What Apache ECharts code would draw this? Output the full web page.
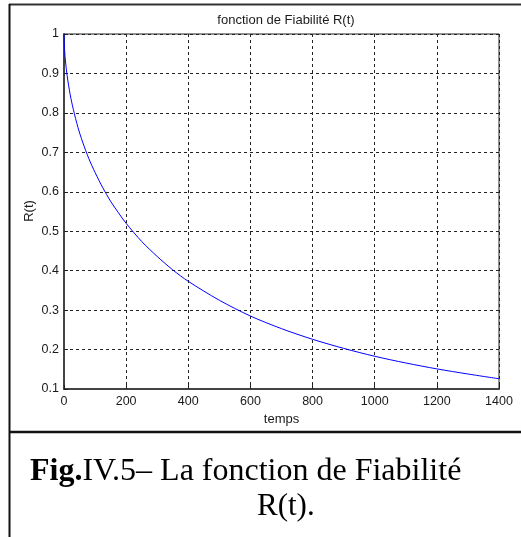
<!DOCTYPE html>
<html>
<head>
<meta charset="utf-8">
<script src="https://cdn.jsdelivr.net/npm/echarts@6/dist/echarts.min.js"></script>
<style>
  html, body { margin: 0; padding: 0; background: #fff; }
  #chart { width: 521px; height: 537px; }
</style>
</head>
<body>
<div id="chart"></div>
<script>
// Reliability function R(t) sampled over time
const timeValues = [0, 2, 5, 10, 20, 30, 45, 60, 80, 100, 125, 150, 175, 200, 250, 300, 350, 400, 500, 600, 700, 800, 900, 1000, 1100, 1200, 1300, 1400];
const reliability = [1.0, 0.958, 0.929, 0.895, 0.846, 0.809, 0.763, 0.726, 0.684, 0.649, 0.610, 0.576, 0.547, 0.520, 0.474, 0.436, 0.402, 0.373, 0.325, 0.285, 0.253, 0.226, 0.203, 0.183, 0.166, 0.151, 0.138, 0.126];
const xTicks = [0, 200, 400, 600, 800, 1000, 1200, 1400];
const yTicks = [0.1, 0.2, 0.3, 0.4, 0.5, 0.6, 0.7, 0.8, 0.9, 1];

const chart = echarts.init(document.getElementById('chart'), null, { renderer: 'canvas' });
const axisFont = 'Liberation Sans, Arial, sans-serif';
const serif = 'Liberation Serif, Times New Roman, serif';

const points = timeValues.map((t, i) => [t, reliability[i]]);

chart.setOption({
  backgroundColor: '#fff',
  animation: false,
  title: {
    text: 'fonction de Fiabilité R(t)',
    left: 281, top: 9, textAlign: 'center',
    textStyle: { fontFamily: axisFont, fontSize: 13, fontWeight: 'normal', color: '#1a1a1a' }
  },
  grid: { left: 64, top: 34, width: 435, height: 355, show: true, borderColor: '#222', borderWidth: 1 },
  xAxis: {
    type: 'value', min: xTicks[0], max: xTicks[xTicks.length - 1], interval: 200,
    name: 'temps', nameLocation: 'middle', nameGap: 22,
    nameTextStyle: { fontFamily: axisFont, fontSize: 13, color: '#1a1a1a' },
    axisLine: { lineStyle: { color: '#444', width: 2 } },
    axisTick: { inside: true, length: 4, lineStyle: { color: '#222' } },
    axisLabel: {
      fontFamily: axisFont, fontSize: 12.5, color: '#1a1a1a', margin: 6,
      formatter: v => xTicks.includes(v) ? String(v) : ''
    },
    splitLine: { show: true, lineStyle: { color: '#222', type: [3, 3], width: 1 } }
  },
  yAxis: {
    type: 'value', min: 0.1, max: 1, interval: 0.1,
    axisLine: { lineStyle: { color: '#444', width: 2 } },
    axisTick: { inside: true, length: 4, lineStyle: { color: '#222' } },
    axisLabel: {
      fontFamily: axisFont, fontSize: 12.5, color: '#1a1a1a', margin: 5,
      formatter: v => {
        const r = Math.round(v * 10) / 10;
        return yTicks.includes(r) ? String(r) : '';
      }
    },
    splitLine: { show: true, lineStyle: { color: '#222', type: [3, 3], width: 1 } }
  },
  series: [{
    type: 'line', data: points, showSymbol: false, smooth: 0.3,
    lineStyle: { color: '#0000ff', width: 1 }
  }],
  graphic: [
    // figure frame
    { type: 'line', shape: { x1: 9, y1: 4.5, x2: 521, y2: 4.5 }, style: { stroke: '#333', lineWidth: 2 } },
    { type: 'line', shape: { x1: 9.5, y1: 4, x2: 9.5, y2: 537 }, style: { stroke: '#111', lineWidth: 2 } },
    { type: 'line', shape: { x1: 9, y1: 432, x2: 521, y2: 432 }, style: { stroke: '#111', lineWidth: 2.5 } },
    // y-axis title
    {
      type: 'text', x: 29, y: 211, rotation: Math.PI / 2,
      style: {
        text: 'R(t)', fontFamily: axisFont, fontSize: 13, fill: '#1a1a1a',
        align: 'center', verticalAlign: 'middle'
      }
    },
    // caption
    {
      type: 'text', left: 30, top: 456,
      style: {
        text: '{b|Fig.}IV.5– La fonction de Fiabilité',
        fontFamily: serif, fontSize: 32, fill: '#000',
        rich: { b: { fontFamily: serif, fontSize: 32, fontWeight: 'bold', fill: '#000' } }
      }
    },
    {
      type: 'text', left: 257, top: 491,
      style: { text: 'R(t).', fontFamily: serif, fontSize: 31, fill: '#000' }
    }
  ]
});
</script>
</body>
</html>
